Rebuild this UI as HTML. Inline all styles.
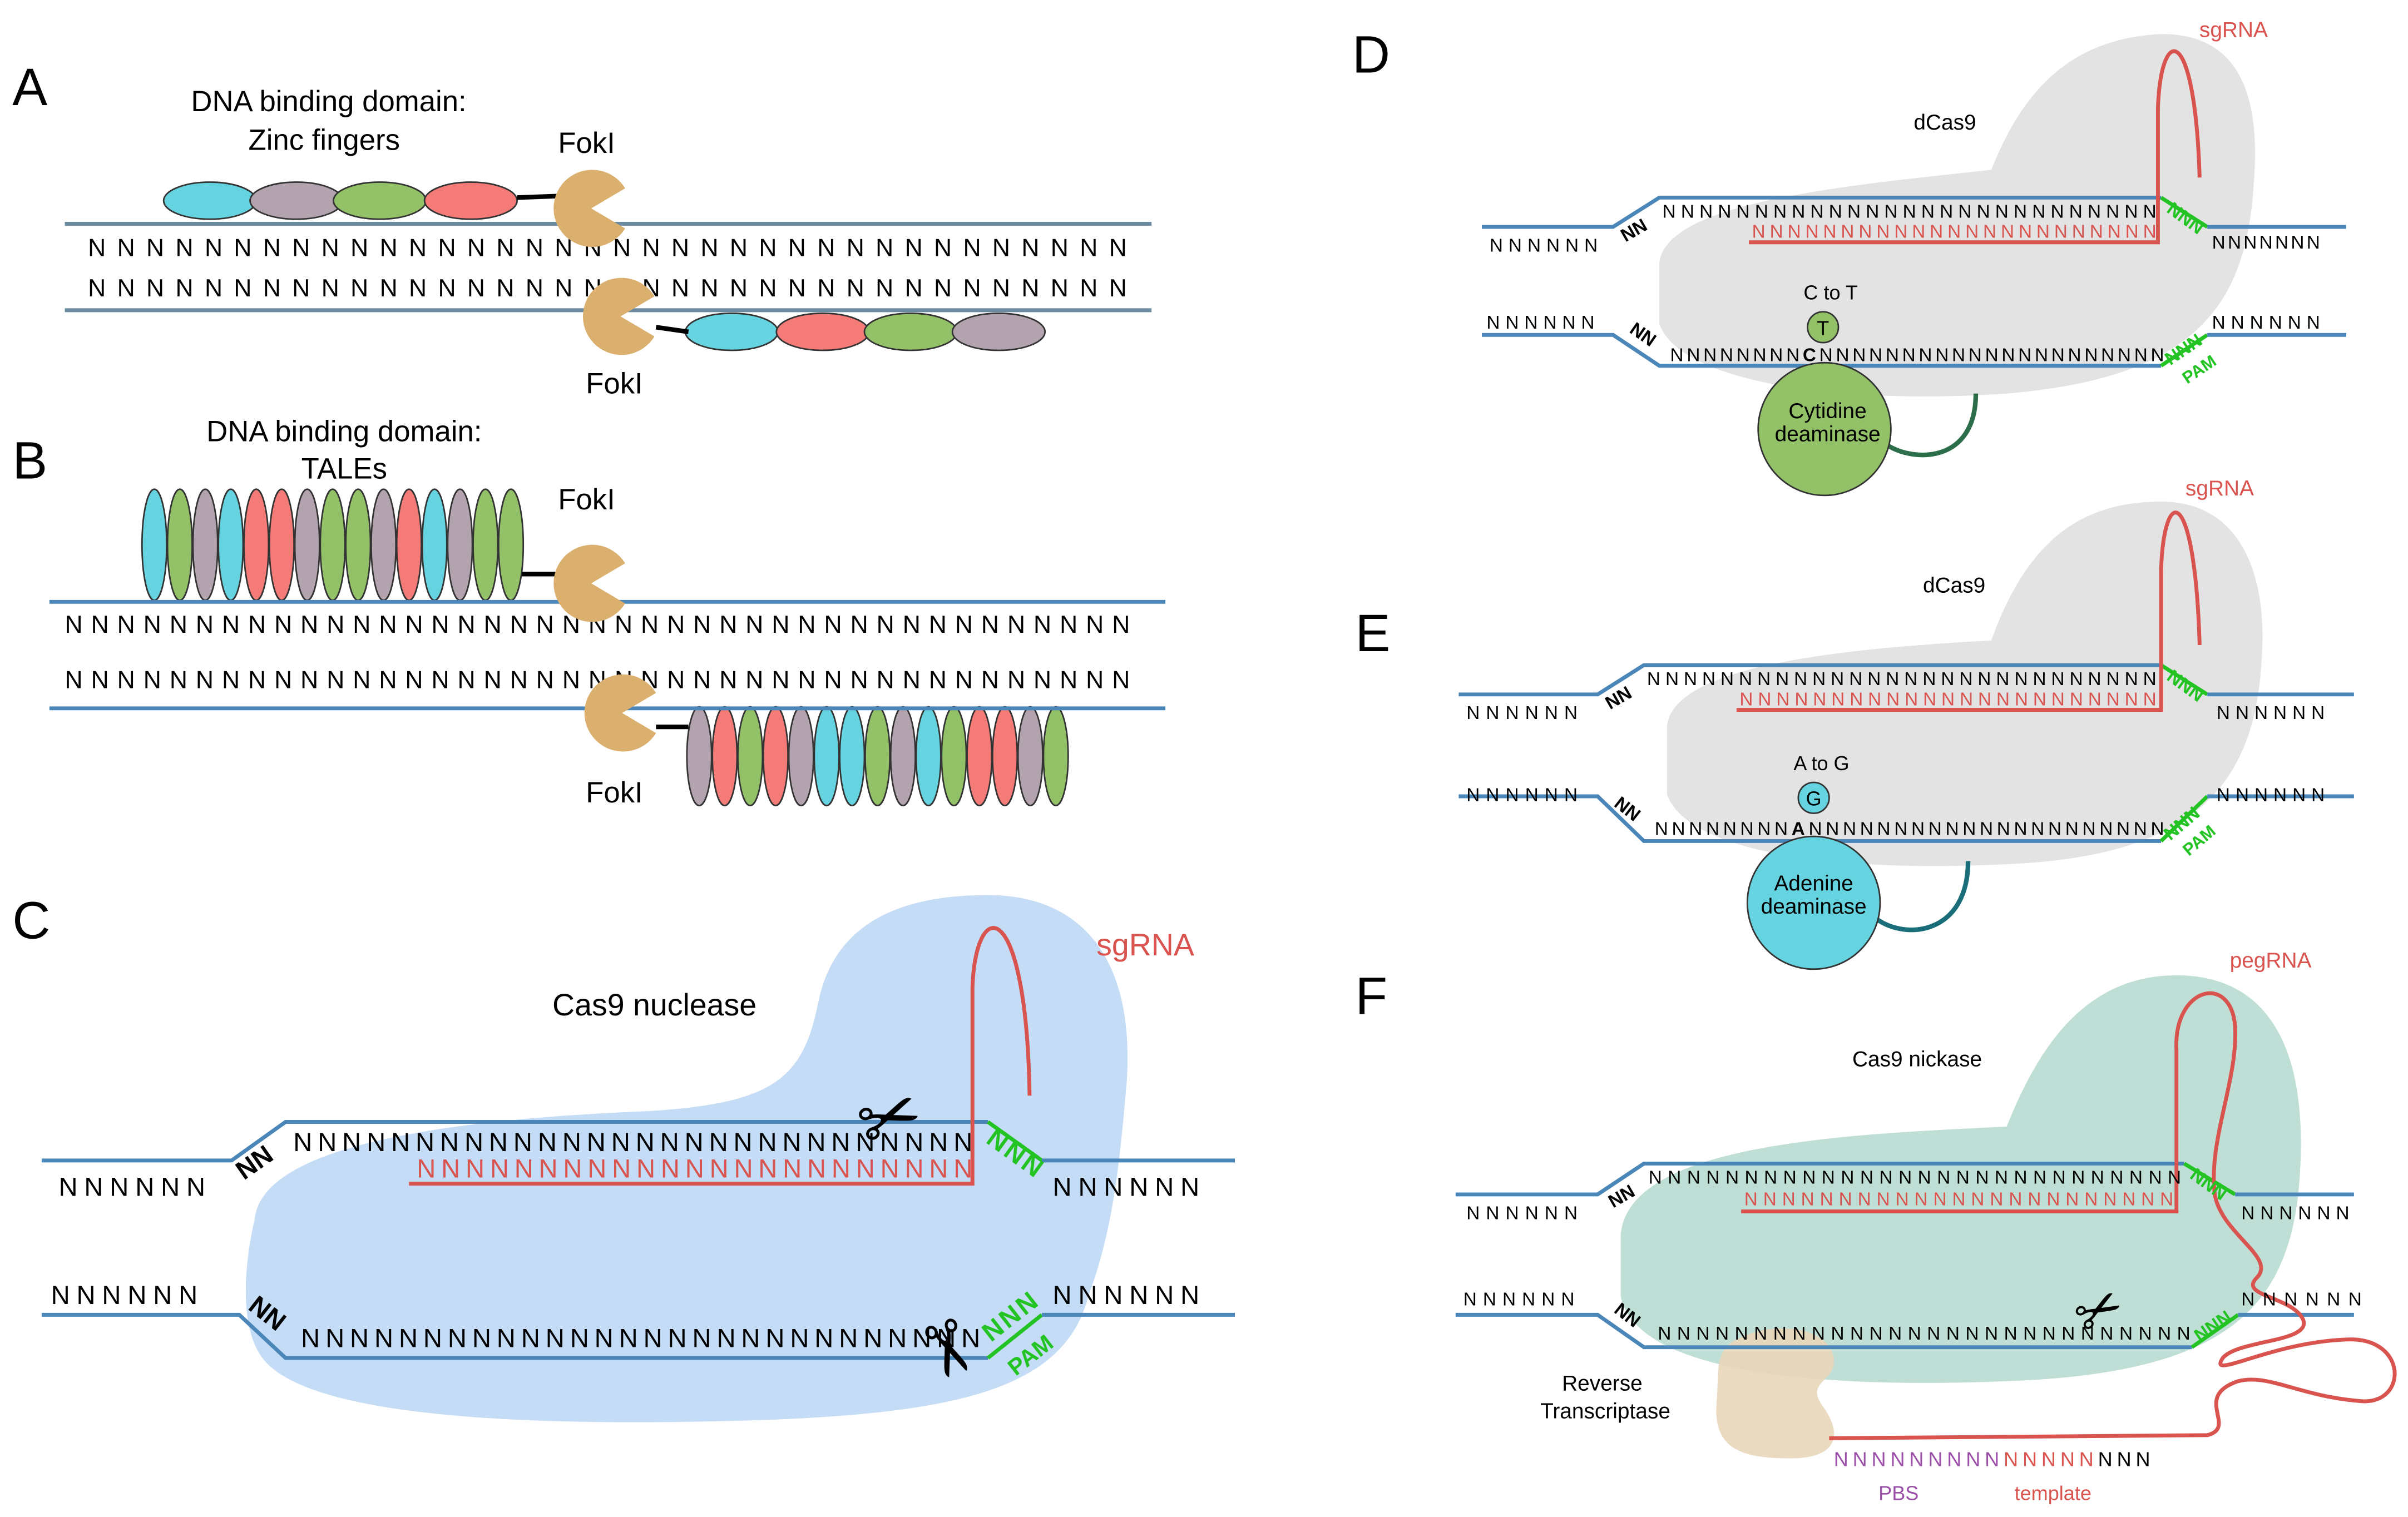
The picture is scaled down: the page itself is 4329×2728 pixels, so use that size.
<!DOCTYPE html>
<html><head><meta charset="utf-8"><style>
html,body{margin:0;padding:0;background:#fff;}
svg{display:block;}
text{font-family:"Liberation Sans",sans-serif;}
</style></head><body>
<svg width="4329" height="2728" viewBox="0 0 1560 983" xmlns="http://www.w3.org/2000/svg">
<rect width="1560" height="983" fill="#fff"/>

<!-- ========== Panel A ========== -->
<text x="8" y="68" font-size="34">A</text>
<text x="213" y="72" font-size="19" text-anchor="middle">DNA binding domain:</text>
<text x="210" y="97" font-size="19" text-anchor="middle">Zinc fingers</text>
<text x="380" y="99" font-size="19" text-anchor="middle">FokI</text>
<text x="398" y="255" font-size="19" text-anchor="middle">FokI</text>
<g stroke="#333" stroke-width="1">
<ellipse cx="136" cy="130" rx="30" ry="12" fill="#66d3e0"/>
<ellipse cx="192" cy="130" rx="30" ry="12" fill="#b3a3ae"/>
<ellipse cx="246" cy="130" rx="30" ry="12" fill="#93c168"/>
<ellipse cx="305" cy="130" rx="30" ry="12" fill="#f47b78"/>
<ellipse cx="474" cy="215" rx="30" ry="12" fill="#66d3e0"/>
<ellipse cx="533" cy="215" rx="30" ry="12" fill="#f47b78"/>
<ellipse cx="590" cy="215" rx="30" ry="12" fill="#93c168"/>
<ellipse cx="647" cy="215" rx="30" ry="12" fill="#b3a3ae"/>
</g>
<line x1="335" y1="128" x2="362" y2="127" stroke="#000" stroke-width="3"/>
<line x1="425" y1="212" x2="446" y2="215" stroke="#000" stroke-width="3"/>
<line x1="42" y1="145" x2="746" y2="145" stroke="#6a8aa0" stroke-width="2.5"/>
<line x1="42" y1="201" x2="746" y2="201" stroke="#6a8aa0" stroke-width="2.5"/>
<text x="57" y="166" font-size="16" textLength="673" lengthAdjust="spacing">NNNNNNNNNNNNNNNNNNNNNNNNNNNNNNNNNNNN</text>
<text x="57" y="192" font-size="16" textLength="673" lengthAdjust="spacing">NNNNNNNNNNNNNNNNNNNNNNNNNNNNNNNNNNNN</text>
<path d="M383,135 L405,122 A25,25 0 1 0 405,148 Z" fill="#dbaf6e"/>
<path d="M402,205 L424,192 A25,25 0 1 0 424,218 Z" fill="#dbaf6e"/>

<!-- ========== Panel B ========== -->
<text x="8" y="310" font-size="34">B</text>
<text x="223" y="286" font-size="19" text-anchor="middle">DNA binding domain:</text>
<text x="223" y="310" font-size="19" text-anchor="middle">TALEs</text>
<text x="380" y="330" font-size="19" text-anchor="middle">FokI</text>
<text x="398" y="520" font-size="19" text-anchor="middle">FokI</text>
<g stroke="#333" stroke-width="1">
<ellipse cx="100" cy="353" rx="8" ry="36" fill="#66d3e0"/>
<ellipse cx="116.5" cy="353" rx="8" ry="36" fill="#93c168"/>
<ellipse cx="133" cy="353" rx="8" ry="36" fill="#b3a3ae"/>
<ellipse cx="149.5" cy="353" rx="8" ry="36" fill="#66d3e0"/>
<ellipse cx="166" cy="353" rx="8" ry="36" fill="#f47b78"/>
<ellipse cx="182.5" cy="353" rx="8" ry="36" fill="#f47b78"/>
<ellipse cx="199" cy="353" rx="8" ry="36" fill="#b3a3ae"/>
<ellipse cx="215.5" cy="353" rx="8" ry="36" fill="#93c168"/>
<ellipse cx="232" cy="353" rx="8" ry="36" fill="#93c168"/>
<ellipse cx="248.5" cy="353" rx="8" ry="36" fill="#b3a3ae"/>
<ellipse cx="265" cy="353" rx="8" ry="36" fill="#f47b78"/>
<ellipse cx="281.5" cy="353" rx="8" ry="36" fill="#66d3e0"/>
<ellipse cx="298" cy="353" rx="8" ry="36" fill="#b3a3ae"/>
<ellipse cx="314.5" cy="353" rx="8" ry="36" fill="#93c168"/>
<ellipse cx="331" cy="353" rx="8" ry="36" fill="#93c168"/>
<ellipse cx="453" cy="490" rx="8" ry="32" fill="#b3a3ae"/>
<ellipse cx="469.5" cy="490" rx="8" ry="32" fill="#f47b78"/>
<ellipse cx="486" cy="490" rx="8" ry="32" fill="#93c168"/>
<ellipse cx="502.5" cy="490" rx="8" ry="32" fill="#f47b78"/>
<ellipse cx="519" cy="490" rx="8" ry="32" fill="#b3a3ae"/>
<ellipse cx="535.5" cy="490" rx="8" ry="32" fill="#66d3e0"/>
<ellipse cx="552" cy="490" rx="8" ry="32" fill="#66d3e0"/>
<ellipse cx="568.5" cy="490" rx="8" ry="32" fill="#93c168"/>
<ellipse cx="585" cy="490" rx="8" ry="32" fill="#b3a3ae"/>
<ellipse cx="601.5" cy="490" rx="8" ry="32" fill="#66d3e0"/>
<ellipse cx="618" cy="490" rx="8" ry="32" fill="#93c168"/>
<ellipse cx="634.5" cy="490" rx="8" ry="32" fill="#f47b78"/>
<ellipse cx="651" cy="490" rx="8" ry="32" fill="#f47b78"/>
<ellipse cx="667.5" cy="490" rx="8" ry="32" fill="#b3a3ae"/>
<ellipse cx="684" cy="490" rx="8" ry="32" fill="#93c168"/>
</g>
<line x1="338" y1="372" x2="362" y2="372" stroke="#000" stroke-width="3"/>
<line x1="425" y1="471" x2="446" y2="471" stroke="#000" stroke-width="3"/>
<line x1="32" y1="390" x2="755" y2="390" stroke="#4a86b8" stroke-width="2.5"/>
<line x1="32" y1="459" x2="755" y2="459" stroke="#4a86b8" stroke-width="2.5"/>
<text x="42" y="410" font-size="16" textLength="690" lengthAdjust="spacing">NNNNNNNNNNNNNNNNNNNNNNNNNNNNNNNNNNNNNNNNN</text>
<text x="42" y="446" font-size="16" textLength="690" lengthAdjust="spacing">NNNNNNNNNNNNNNNNNNNNNNNNNNNNNNNNNNNNNNNNN</text>
<path d="M383,378 L405,365 A25,25 0 1 0 405,391 Z" fill="#dbaf6e"/>
<path d="M403,462 L425,449 A25,25 0 1 0 425,475 Z" fill="#dbaf6e"/>

<!-- ========== Panel C ========== -->
<text x="8" y="608" font-size="34">C</text>
<path d="M165,790 C170,740 300,725 420,720 C500,715 520,700 530,650 C540,600 580,580 640,580 C700,580 735,620 730,700 C725,760 720,800 705,840 C690,900 620,915 500,920 C350,925 200,920 170,880 C155,860 158,820 165,790 Z" fill="#c4dcf6"/>
<text x="424" y="658" font-size="20" text-anchor="middle">Cas9 nuclease</text>
<text x="742" y="619" font-size="20" text-anchor="middle" fill="#d9534f">sgRNA</text>
<polyline points="27,752 150,752 185,727 640,727" fill="none" stroke="#4a86b8" stroke-width="2.5"/>
<line x1="640" y1="727" x2="675" y2="752" stroke="#22c322" stroke-width="2.5"/>
<line x1="675" y1="752" x2="800" y2="752" stroke="#4a86b8" stroke-width="2.5"/>
<polyline points="27,852 155,852 185,880 640,880" fill="none" stroke="#4a86b8" stroke-width="2.5"/>
<line x1="640" y1="880" x2="675" y2="852" stroke="#22c322" stroke-width="2.5"/>
<line x1="675" y1="852" x2="800" y2="852" stroke="#4a86b8" stroke-width="2.5"/>
<path d="M265,767 L630,767 L630,640 C632,580 665,580 667,710" fill="none" stroke="#d9534f" stroke-width="2.5"/>
<text x="38" y="775" font-size="17" textLength="95" lengthAdjust="spacing">NNNNNN</text>
<text x="0" y="0" font-size="17" font-weight="bold" transform="translate(158,765) rotate(-35)">NN</text>
<text x="190" y="746" font-size="17" textLength="440" lengthAdjust="spacing">NNNNNNNNNNNNNNNNNNNNNNNNNNNN</text>
<text x="270" y="763" font-size="17" fill="#d9534f" textLength="360" lengthAdjust="spacing">NNNNNNNNNNNNNNNNNNNNNNN</text>
<text x="0" y="0" font-size="17" font-weight="bold" fill="#22c322" transform="translate(638,740) rotate(36)" textLength="40" lengthAdjust="spacing">NNN</text>
<text x="682" y="775" font-size="17" textLength="95" lengthAdjust="spacing">NNNNNN</text>
<text x="33" y="845" font-size="17" textLength="95" lengthAdjust="spacing">NNNNNN</text>
<text x="0" y="0" font-size="17" font-weight="bold" transform="translate(160,848) rotate(38)">NN</text>
<text x="195" y="873" font-size="17" textLength="440" lengthAdjust="spacing">NNNNNNNNNNNNNNNNNNNNNNNNNNNN</text>
<text x="0" y="0" font-size="17" font-weight="bold" fill="#22c322" transform="translate(642,870) rotate(-38)" textLength="40" lengthAdjust="spacing">NNN</text>
<text x="0" y="0" font-size="15" font-weight="bold" fill="#22c322" transform="translate(658,892) rotate(-38)">PAM</text>
<text x="682" y="845" font-size="17" textLength="95" lengthAdjust="spacing">NNNNNN</text>
<text x="0" y="0" font-size="48" text-anchor="middle" transform="translate(582,740) rotate(-20)">✂</text>
<text x="0" y="0" font-size="48" text-anchor="middle" transform="translate(598,880) rotate(70)">✂</text>

<!-- ========== Panel D ========== -->
<text x="876" y="47" font-size="34">D</text>
<path d="M1075,170 C1080,130 1200,120 1290,110 C1310,60 1340,25 1400,22 C1450,22 1465,60 1460,120 C1455,200 1420,245 1300,255 C1200,262 1090,250 1075,210 Z" fill="#e3e3e3"/>
<text x="1260" y="84" font-size="14" text-anchor="middle">dCas9</text>
<text x="1447" y="24" font-size="14" text-anchor="middle" fill="#d9534f">sgRNA</text>
<polyline points="960,147 1045,147 1075,128 1400,128" fill="none" stroke="#4a86b8" stroke-width="2.5"/>
<line x1="1400" y1="128" x2="1430" y2="147" stroke="#22c322" stroke-width="2.5"/>
<line x1="1430" y1="147" x2="1520" y2="147" stroke="#4a86b8" stroke-width="2.5"/>
<polyline points="960,217 1045,217 1075,237 1400,237" fill="none" stroke="#4a86b8" stroke-width="2.5"/>
<line x1="1400" y1="237" x2="1430" y2="217" stroke="#22c322" stroke-width="2.5"/>
<line x1="1430" y1="217" x2="1520" y2="217" stroke="#4a86b8" stroke-width="2.5"/>
<path d="M1133,157 L1398,157 L1398,70 C1400,15 1422,15 1425,115" fill="none" stroke="#d9534f" stroke-width="2.5"/>
<text x="965" y="163" font-size="12" textLength="70" lengthAdjust="spacing">NNNNNN</text>
<text x="0" y="0" font-size="12" font-weight="bold" transform="translate(1053,157) rotate(-30)">NN</text>
<text x="1077" y="141" font-size="12" textLength="320" lengthAdjust="spacing">NNNNNNNNNNNNNNNNNNNNNNNNNNN</text>
<text x="1135" y="154" font-size="12" fill="#d9534f" textLength="262" lengthAdjust="spacing">NNNNNNNNNNNNNNNNNNNNNNN</text>
<text x="0" y="0" font-size="12" font-weight="bold" fill="#22c322" transform="translate(1403,137) rotate(36)">NNN</text>
<text x="1433" y="161" font-size="12" textLength="70" lengthAdjust="spacing">NNNNNNN</text>
<text x="963" y="213" font-size="12" textLength="70" lengthAdjust="spacing">NNNNNN</text>
<text x="0" y="0" font-size="12" font-weight="bold" transform="translate(1055,215) rotate(35)">NN</text>
<text x="1082" y="234" font-size="12" textLength="320" lengthAdjust="spacing">NNNNNNNN<tspan font-weight="bold">C</tspan>NNNNNNNNNNNNNNNNNNNNN</text>
<text x="0" y="0" font-size="12" font-weight="bold" fill="#22c322" transform="translate(1406,237) rotate(-34)">NNN</text>
<text x="0" y="0" font-size="11" font-weight="bold" fill="#22c322" transform="translate(1417,249) rotate(-34)">PAM</text>
<text x="1433" y="213" font-size="12" textLength="70" lengthAdjust="spacing">NNNNNN</text>
<text x="1186" y="194" font-size="13" text-anchor="middle">C to T</text>
<circle cx="1181" cy="212" r="10" fill="#93c168" stroke="#333"/>
<text x="1181" y="217" font-size="13" text-anchor="middle">T</text>
<path d="M1222,288 C1240,300 1280,300 1280,255" fill="none" stroke="#2d6e4a" stroke-width="3"/>
<circle cx="1182" cy="278" r="43" fill="#93c168" stroke="#333"/>
<text x="1184" y="271" font-size="14" text-anchor="middle">Cytidine</text>
<text x="1184" y="286" font-size="14" text-anchor="middle">deaminase</text>

<!-- ========== Panel E ========== -->
<text x="878" y="422" font-size="34">E</text>
<path d="M1080,470 C1085,430 1200,420 1290,415 C1310,360 1340,325 1400,325 C1450,325 1470,370 1465,430 C1460,510 1420,555 1300,560 C1200,565 1095,555 1080,515 Z" fill="#e3e3e3"/>
<text x="1266" y="384" font-size="14" text-anchor="middle">dCas9</text>
<text x="1438" y="321" font-size="14" text-anchor="middle" fill="#d9534f">sgRNA</text>
<polyline points="945,450 1035,450 1065,431 1400,431" fill="none" stroke="#4a86b8" stroke-width="2.5"/>
<line x1="1400" y1="431" x2="1430" y2="450" stroke="#22c322" stroke-width="2.5"/>
<line x1="1430" y1="450" x2="1525" y2="450" stroke="#4a86b8" stroke-width="2.5"/>
<polyline points="945,516 1035,516 1065,545 1400,545" fill="none" stroke="#4a86b8" stroke-width="2.5"/>
<line x1="1400" y1="545" x2="1430" y2="516" stroke="#22c322" stroke-width="2.5"/>
<line x1="1430" y1="516" x2="1525" y2="516" stroke="#4a86b8" stroke-width="2.5"/>
<path d="M1125,460 L1400,460 L1400,370 C1402,312 1422,315 1425,418" fill="none" stroke="#d9534f" stroke-width="2.5"/>
<text x="950" y="466" font-size="12" textLength="72" lengthAdjust="spacing">NNNNNN</text>
<text x="0" y="0" font-size="12" font-weight="bold" transform="translate(1043,460) rotate(-30)">NN</text>
<text x="1067" y="444" font-size="12" textLength="330" lengthAdjust="spacing">NNNNNNNNNNNNNNNNNNNNNNNNNNNN</text>
<text x="1127" y="457" font-size="12" fill="#d9534f" textLength="270" lengthAdjust="spacing">NNNNNNNNNNNNNNNNNNNNNNN</text>
<text x="0" y="0" font-size="12" font-weight="bold" fill="#22c322" transform="translate(1403,440) rotate(36)">NNN</text>
<text x="1436" y="466" font-size="12" textLength="70" lengthAdjust="spacing">NNNNNN</text>
<text x="950" y="519" font-size="12" textLength="72" lengthAdjust="spacing">NNNNNN</text>
<text x="0" y="0" font-size="12" font-weight="bold" transform="translate(1045,522) rotate(38)">NN</text>
<text x="1072" y="541" font-size="12" textLength="330" lengthAdjust="spacing">NNNNNNNN<tspan font-weight="bold">A</tspan>NNNNNNNNNNNNNNNNNNNNN</text>
<text x="0" y="0" font-size="12" font-weight="bold" fill="#22c322" transform="translate(1406,545) rotate(-40)">NNN</text>
<text x="0" y="0" font-size="11" font-weight="bold" fill="#22c322" transform="translate(1418,555) rotate(-40)">PAM</text>
<text x="1436" y="519" font-size="12" textLength="70" lengthAdjust="spacing">NNNNNN</text>
<text x="1180" y="499" font-size="13" text-anchor="middle">A to G</text>
<circle cx="1175" cy="517" r="10" fill="#66d3e0" stroke="#333"/>
<text x="1175" y="522" font-size="13" text-anchor="middle">G</text>
<path d="M1215,595 C1235,610 1275,605 1275,558" fill="none" stroke="#1a6e7a" stroke-width="3"/>
<circle cx="1175" cy="585" r="43" fill="#66d3e0" stroke="#333"/>
<text x="1175" y="577" font-size="14" text-anchor="middle">Adenine</text>
<text x="1175" y="592" font-size="14" text-anchor="middle">deaminase</text>

<!-- ========== Panel F ========== -->
<text x="878" y="657" font-size="34">F</text>
<path d="M1050,800 C1055,740 1200,735 1300,730 C1320,680 1350,632 1410,632 C1470,632 1495,680 1490,760 C1485,850 1440,890 1300,895 C1180,900 1060,890 1050,840 Z" fill="#bfdfd6"/>
<path d="M1125,868 C1150,855 1185,860 1188,880 C1190,895 1170,895 1180,910 C1195,930 1190,945 1160,945 C1130,945 1110,940 1112,910 C1114,890 1110,875 1125,868 Z" fill="#e8d6b8" opacity="0.9"/>
<text x="1242" y="691" font-size="14" text-anchor="middle">Cas9 nickase</text>
<text x="1471" y="627" font-size="14" text-anchor="middle" fill="#d9534f">pegRNA</text>
<text x="1038" y="901" font-size="14" text-anchor="middle">Reverse</text>
<text x="1040" y="919" font-size="14" text-anchor="middle">Transcriptase</text>
<polyline points="943,774 1035,774 1065,754 1415,754" fill="none" stroke="#4a86b8" stroke-width="2.5"/>
<line x1="1415" y1="754" x2="1448" y2="774" stroke="#22c322" stroke-width="2.5"/>
<line x1="1448" y1="774" x2="1525" y2="774" stroke="#4a86b8" stroke-width="2.5"/>
<polyline points="943,852 1035,852 1065,873 1420,873" fill="none" stroke="#4a86b8" stroke-width="2.5"/>
<line x1="1420" y1="873" x2="1450" y2="852" stroke="#22c322" stroke-width="2.5"/>
<line x1="1450" y1="852" x2="1525" y2="852" stroke="#4a86b8" stroke-width="2.5"/>
<path d="M1128,785 L1410,785 L1410,680 C1408,640 1445,630 1448,665 C1450,700 1430,740 1435,775 C1440,800 1475,815 1462,828 C1450,840 1485,840 1492,855 C1498,870 1450,868 1440,880 C1430,895 1470,870 1520,868 C1560,866 1560,910 1530,908 C1490,905 1470,890 1450,895 C1420,905 1450,925 1430,930 L1185,932" fill="none" stroke="#d9534f" stroke-width="2.5"/>
<text x="950" y="790" font-size="12" textLength="72" lengthAdjust="spacing">NNNNNN</text>
<text x="0" y="0" font-size="12" font-weight="bold" transform="translate(1045,783) rotate(-30)">NN</text>
<text x="1068" y="767" font-size="12" textLength="345" lengthAdjust="spacing">NNNNNNNNNNNNNNNNNNNNNNNNNNNN</text>
<text x="1130" y="781" font-size="12" fill="#d9534f" textLength="278" lengthAdjust="spacing">NNNNNNNNNNNNNNNNNNNNNNN</text>
<text x="0" y="0" font-size="12" font-weight="bold" fill="#22c322" transform="translate(1418,763) rotate(36)">NNN</text>
<text x="1452" y="790" font-size="12" textLength="70" lengthAdjust="spacing">NNNNNN</text>
<text x="948" y="846" font-size="12" textLength="72" lengthAdjust="spacing">NNNNNN</text>
<text x="0" y="0" font-size="12" font-weight="bold" transform="translate(1045,850) rotate(38)">NN</text>
<text x="1074" y="868" font-size="12" textLength="345" lengthAdjust="spacing">NNNNNNNNNNNNNNNNNNNNNNNNNNNN</text>
<text x="0" y="0" font-size="12" font-weight="bold" fill="#22c322" transform="translate(1425,870) rotate(-34)">NNN</text>
<text x="1452" y="846" font-size="12" textLength="78" lengthAdjust="spacing">NNNNNN</text>
<text x="1188" y="950" font-size="13" textLength="205" lengthAdjust="spacing"><tspan fill="#9b4fa8">NNNNNNNNN</tspan><tspan fill="#d9534f">NNNNN</tspan>NNN</text>
<text x="1230" y="972" font-size="13" text-anchor="middle" fill="#9b4fa8">PBS</text>
<text x="1330" y="972" font-size="13" text-anchor="middle" fill="#d9534f">template</text>
<text x="0" y="0" font-size="36" text-anchor="middle" transform="translate(1366,860) rotate(-30)">✂</text>
</svg>
</body></html>
